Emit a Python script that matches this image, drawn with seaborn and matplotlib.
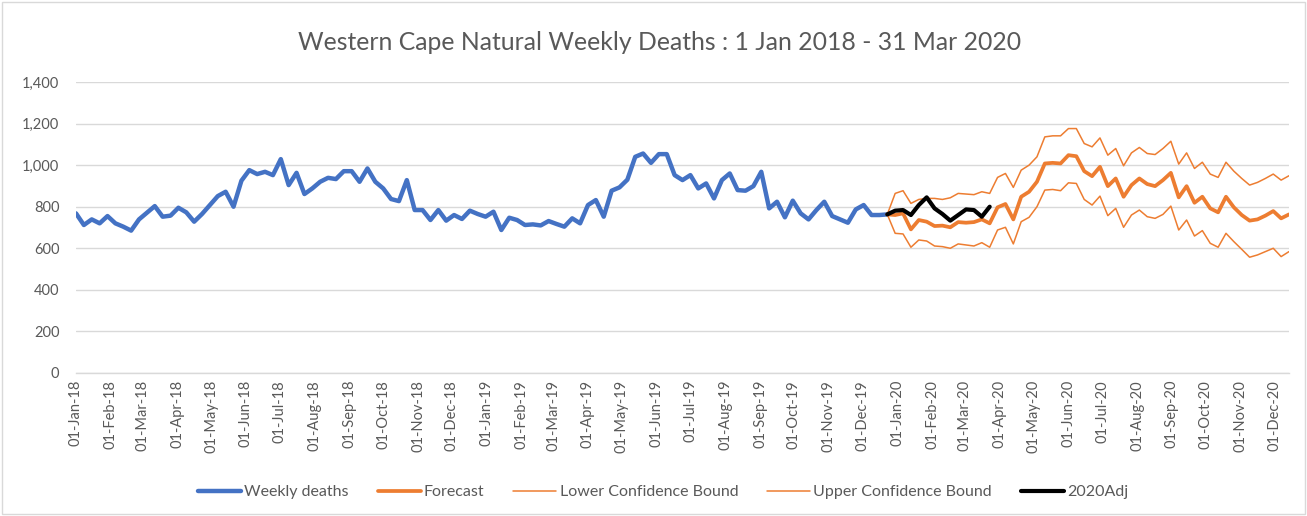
import numpy as np
import pandas as pd
import matplotlib
matplotlib.use('Agg')
import matplotlib.pyplot as plt
import matplotlib.dates as mdates
from matplotlib.ticker import FuncFormatter
from matplotlib.patches import Rectangle
from matplotlib.lines import Line2D
import seaborn as sns

start_date = '2018-01-01'
weekly_deaths = [768, 712, 739, 720, 755, 720, 704, 685, 739, 771,
                 803, 752, 757, 795, 773, 728, 765, 808, 851, 872,
                 800, 925, 976, 957, 968, 952, 1029, 904, 963, 861,
                 888, 920, 939, 933, 971, 971, 920, 984, 920, 888,
                 837, 827, 928, 784, 784, 736, 784, 733, 760, 741,
                 781, 765, 752, 776, 688, 747, 736, 712, 715, 710,
                 731, 717, 704, 744, 720, 808, 832, 752, 877, 893,
                 930, 1040, 1056, 1011, 1053, 1053, 952, 928, 952, 888,
                 912, 840, 928, 960, 880, 877, 899, 968, 792, 824,
                 749, 829, 768, 739, 784, 824, 755, 739, 723, 787,
                 808, 760, 760, 763]
forecast = [763, 760, 768, 691, 736, 728, 707, 709, 701, 726,
            723, 726, 739, 720, 797, 813, 739, 848, 872, 920,
            1008, 1011, 1008, 1048, 1043, 971, 947, 992, 899, 936,
            848, 904, 936, 909, 899, 928, 963, 845, 899, 819,
            848, 792, 773, 848, 797, 760, 733, 739, 757, 779,
            744, 763]
lower_bound = [763, 672, 669, 605, 640, 635, 611, 608, 600, 621,
               616, 611, 627, 605, 688, 701, 621, 728, 749, 800,
               880, 883, 877, 915, 912, 835, 808, 851, 757, 792,
               701, 760, 784, 752, 744, 763, 803, 688, 736, 659,
               685, 624, 605, 672, 632, 595, 557, 568, 584, 600,
               560, 584]
upper_bound = [763, 864, 877, 816, 835, 840, 840, 835, 843, 864,
               861, 858, 872, 864, 941, 960, 893, 976, 1000, 1040,
               1136, 1141, 1141, 1176, 1176, 1104, 1088, 1131, 1048, 1080,
               997, 1059, 1085, 1056, 1051, 1080, 1115, 1005, 1059, 984,
               1014, 957, 941, 1014, 971, 936, 904, 917, 936, 957,
               928, 949]
adj_2020 = [763, 781, 784, 760, 808, 845, 792, 765, 733, 760,
            787, 784, 752, 800]

series_labels = ['Weekly deaths', 'Forecast', 'Lower Confidence Bound',
                 'Upper Confidence Bound', '2020Adj']
title = 'Western Cape Natural Weekly Deaths : 1 Jan 2018 - 31 Mar 2020'

sns.set_style('white')
plt.rcParams['font.family'] = ['Lato', 'DejaVu Sans']

n_hist = len(weekly_deaths)
dates = pd.date_range(start_date, periods=n_hist + len(forecast) - 1, freq='7D')
d_hist = dates[:n_hist]
d_fc = dates[n_hist - 1:]
d_adj = dates[n_hist - 1:n_hist - 1 + len(adj_2020)]

W, H = 1307, 516
fig = plt.figure(figsize=(W / 100, H / 100), dpi=100)
ax = fig.add_axes([76 / W, (H - 373) / H, (1289 - 76) / W, (373 - 82) / H])

blue = '#4472C4'
orange = '#ED7D31'
styles = [(blue, 3.2), (orange, 2.7), (orange, 1.1), (orange, 1.1), ('black', 3.0)]
data = [(d_hist, weekly_deaths), (d_fc, forecast), (d_fc, lower_bound),
        (d_fc, upper_bound), (d_adj, adj_2020)]
for (xs, ys), (c, lw), lab in zip(data, styles, series_labels):
    sns.lineplot(x=xs, y=ys, ax=ax, color=c, linewidth=lw, legend=False,
                 solid_joinstyle='round', solid_capstyle='round')

ax.set_xlim(dates[0], dates[-1])
ax.set_ylim(0, 1400)
ax.set_yticks(range(0, 1401, 200))
ax.yaxis.set_major_formatter(FuncFormatter(lambda v, p: f'{v:,.0f}'))
ax.xaxis.set_major_locator(mdates.MonthLocator())
ax.xaxis.set_major_formatter(mdates.DateFormatter('%d-%b-%y'))
ax.grid(axis='y', color='#D9D9D9', linewidth=1.0)
ax.grid(axis='x', visible=False)
ax.set_axisbelow(True)
for s in ['top', 'right', 'left']:
    ax.spines[s].set_visible(False)
ax.spines['bottom'].set_color('#D9D9D9')
ax.spines['bottom'].set_linewidth(1.0)
ax.tick_params(axis='x', length=0, pad=5, labelsize=10.5, labelcolor='#595959', rotation=90)
ax.tick_params(axis='y', length=0, pad=12, labelsize=10.5, labelcolor='#595959')
ax.set_xlabel('')
ax.set_ylabel('')

fig.text(0.505, 1 - 42 / H, title, ha='center', va='center', fontsize=17.8, color='#595959')

handles = [Line2D([], [], color=c, linewidth=lw) for c, lw in styles]
fig.legend(handles, series_labels, loc='center', bbox_to_anchor=(663 / W, 1 - 492 / H),
           ncol=5, frameon=False, fontsize=11.5, handlelength=2.7, handletextpad=0.2,
           columnspacing=1.8, labelcolor='#595959')

fig.add_artist(Rectangle((2 / W, 2 / H), 1 - 4 / W, 1 - 4 / H, transform=fig.transFigure,
                         fill=False, edgecolor='#D9D9D9', linewidth=1.0))

fig.savefig('out.png', dpi=100)
